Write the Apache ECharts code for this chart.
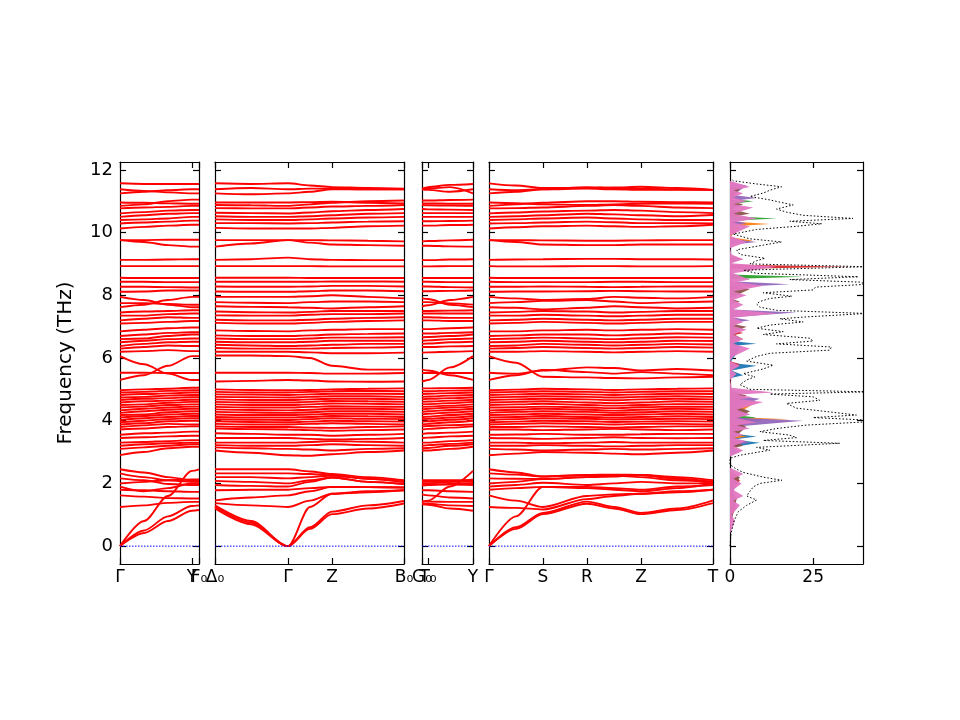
<!DOCTYPE html>
<html>
<head>
<meta charset="utf-8">
<script src="https://cdn.jsdelivr.net/npm/echarts@6/dist/echarts.min.js"></script>
<style>
  html, body { margin: 0; padding: 0; background: #fff; }
  #main { width: 960px; height: 720px; }
</style>
</head>
<body>
<div id="main"></div>
<script>
// k-path sample positions per panel (k distance, arbitrary units)
const xsP1 = [0, 24, 48, 72, 79];
const xsP2 = [0, 36, 73, 95, 117, 153, 189];
const xsP3 = [0, 6, 28, 51];
const xsP4 = [0, 27, 54, 98, 125, 152, 188, 224];

// high-symmetry ticks and labels
const ticksP1 = [0, 72, 79];
const labelsP1 = ["Γ", "Y", "F₀"];
const ticksP2 = [0, 73, 117, 189];
const labelsP2 = ["Δ₀", "Γ", "Z", "B₀"];
const ticksP3 = [0, 6, 51];
const labelsP3 = ["G₀", "T₀", "Y"];
const ticksP4 = [0, 54, 98, 152, 224];
const labelsP4 = ["Γ", "S", "R", "Z", "T"];
const freqTicks = [0, 2, 4, 6, 8, 10, 12];
const dosTicks = [0, 25];
const dosLabels = ["0", "25"];

// band frequencies (THz), one row per band, one value per sample position
const bandsP1 = [
  [0, 0.42, 0.8, 1.13, 1.15], [0, 0.5, 0.95, 1.28, 1.3], [0, 0.8, 1.6, 2.4, 2.45],
  [1.25, 1.3, 1.38, 1.41, 1.41], [1.62, 1.58, 1.53, 1.52, 1.52], [1.8, 1.78, 1.75, 1.73, 1.73],
  [1.9, 1.75, 1.85, 2.0, 2.0], [2.0, 2.05, 2.1, 2.13, 2.13], [2.16, 2.1, 1.98, 1.95, 1.95],
  [2.32, 2.2, 2.1, 2.05, 2.05], [2.45, 2.35, 2.2, 2.1, 2.1],
  [2.9, 3.0, 3.12, 3.17, 3.17], [3.1, 3.15, 3.2, 3.25, 3.25], [3.2, 3.25, 3.28, 3.3, 3.3],
  [3.3, 3.32, 3.35, 3.38, 3.38], [3.45, 3.47, 3.5, 3.52, 3.52], [3.55, 3.6, 3.62, 3.65, 3.65],
  [3.72, 3.75, 3.8, 3.82, 3.82], [3.8, 3.85, 3.9, 3.88, 3.88], [3.88, 3.92, 3.98, 4.0, 4.0],
  [3.95, 4.0, 4.05, 4.08, 4.08], [4.02, 4.08, 4.12, 4.15, 4.15], [4.1, 4.15, 4.2, 4.22, 4.22],
  [4.18, 4.2, 4.27, 4.3, 4.3], [4.25, 4.3, 4.35, 4.38, 4.38], [4.33, 4.38, 4.42, 4.45, 4.45],
  [4.42, 4.45, 4.5, 4.52, 4.52], [4.5, 4.52, 4.57, 4.6, 4.6], [4.58, 4.62, 4.64, 4.67, 4.67],
  [4.66, 4.7, 4.72, 4.75, 4.75], [4.74, 4.76, 4.8, 4.82, 4.82], [4.82, 4.85, 4.87, 4.9, 4.9],
  [4.9, 4.92, 4.95, 4.97, 4.97], [4.97, 5.0, 5.02, 5.05, 5.05],
  [5.3, 5.45, 5.75, 6.06, 6.06], [5.53, 5.53, 5.52, 5.52, 5.52], [6.06, 5.8, 5.5, 5.3, 5.3],
  [6.2, 6.22, 6.25, 6.22, 6.22], [6.3, 6.35, 6.4, 6.38, 6.38], [6.38, 6.45, 6.5, 6.52, 6.52],
  [6.5, 6.55, 6.6, 6.62, 6.62], [6.6, 6.62, 6.7, 6.75, 6.75], [6.7, 6.75, 6.8, 6.82, 6.82],
  [6.85, 6.9, 6.95, 6.97, 6.97],
  [7.1, 7.12, 7.15, 7.18, 7.18], [7.2, 7.25, 7.3, 7.28, 7.28], [7.35, 7.35, 7.4, 7.42, 7.42],
  [7.45, 7.48, 7.5, 7.52, 7.52],
  [7.62, 7.7, 7.85, 7.95, 7.95], [7.75, 7.75, 7.72, 7.7, 7.7], [7.95, 7.85, 7.7, 7.62, 7.62],
  [8.11, 8.12, 8.15, 8.15, 8.15], [8.27, 8.27, 8.26, 8.25, 8.25], [8.43, 8.43, 8.42, 8.42, 8.42],
  [8.56, 8.55, 8.55, 8.55, 8.55], [8.93, 8.93, 8.93, 8.93, 8.93], [9.13, 9.13, 9.14, 9.15, 9.15],
  [9.76, 9.7, 9.6, 9.55, 9.55], [9.76, 9.76, 9.77, 9.77, 9.77],
  [10.13, 10.18, 10.22, 10.25, 10.25], [10.29, 10.32, 10.35, 10.38, 10.38],
  [10.4, 10.42, 10.45, 10.5, 10.5], [10.5, 10.55, 10.6, 10.62, 10.62],
  [10.61, 10.65, 10.7, 10.72, 10.72], [10.77, 10.8, 10.82, 10.85, 10.85],
  [10.96, 10.95, 10.93, 10.92, 10.92], [11.25, 11.3, 11.35, 11.38, 11.38],
  [11.38, 11.33, 11.28, 11.25, 11.25], [11.57, 11.55, 11.55, 11.55, 11.55],
  [10.85, 10.9, 11.0, 11.05, 11.05]
];

const bandsP2 = [
  [1.2, 0.7, 0, 0.55, 1.02, 1.2, 1.36], [1.25, 0.75, 0, 0.6, 1.1, 1.3, 1.44],
  [1.3, 0.8, 0, 1.25, 1.67, 1.72, 1.78], [1.37, 1.3, 1.25, 1.45, 1.67, 1.75, 1.78],
  [1.46, 1.55, 1.62, 1.75, 1.89, 1.88, 1.87], [1.78, 1.8, 1.8, 1.85, 1.89, 1.88, 1.87],
  [1.95, 1.92, 1.9, 2.05, 2.19, 2.05, 1.98], [2.08, 2.05, 2.0, 2.1, 2.19, 2.05, 1.98],
  [2.2, 2.2, 2.16, 2.2, 2.25, 2.15, 2.05], [2.32, 2.32, 2.32, 2.3, 2.25, 2.15, 2.05],
  [2.45, 2.45, 2.45, 2.38, 2.3, 2.2, 2.1],
  [3.05, 2.98, 2.9, 2.88, 2.93, 3.0, 3.05], [3.15, 3.12, 3.1, 3.08, 3.05, 3.1, 3.12],
  [3.22, 3.2, 3.2, 3.22, 3.25, 3.22, 3.2], [3.3, 3.3, 3.3, 3.32, 3.35, 3.33, 3.3],
  [3.45, 3.45, 3.45, 3.42, 3.4, 3.42, 3.45], [3.6, 3.58, 3.55, 3.55, 3.52, 3.55, 3.58],
  [3.75, 3.73, 3.72, 3.7, 3.68, 3.7, 3.72], [3.82, 3.8, 3.8, 3.78, 3.77, 3.8, 3.82],
  [3.9, 3.88, 3.88, 3.9, 3.92, 3.9, 3.88], [3.98, 3.96, 3.95, 3.97, 4.0, 3.98, 3.97],
  [4.05, 4.03, 4.02, 4.05, 4.08, 4.06, 4.05], [4.12, 4.1, 4.1, 4.12, 4.15, 4.14, 4.12],
  [4.2, 4.18, 4.18, 4.2, 4.22, 4.22, 4.2], [4.28, 4.26, 4.25, 4.27, 4.3, 4.3, 4.28],
  [4.36, 4.34, 4.33, 4.35, 4.38, 4.38, 4.36], [4.44, 4.42, 4.42, 4.44, 4.46, 4.45, 4.44],
  [4.52, 4.5, 4.5, 4.52, 4.55, 4.54, 4.52], [4.6, 4.58, 4.58, 4.6, 4.63, 4.62, 4.6],
  [4.68, 4.66, 4.66, 4.68, 4.7, 4.7, 4.68], [4.76, 4.75, 4.74, 4.76, 4.78, 4.78, 4.76],
  [4.84, 4.83, 4.82, 4.84, 4.86, 4.86, 4.85], [4.92, 4.9, 4.9, 4.92, 4.94, 4.95, 4.94],
  [5.0, 4.98, 4.97, 4.98, 5.0, 5.02, 5.03],
  [5.25, 5.27, 5.3, 5.28, 5.25, 5.24, 5.25], [5.53, 5.53, 5.53, 5.52, 5.5, 5.5, 5.52],
  [6.08, 6.08, 6.06, 6.0, 5.75, 5.63, 5.63],
  [6.2, 6.2, 6.2, 6.18, 6.15, 6.15, 6.17], [6.32, 6.3, 6.3, 6.3, 6.32, 6.33, 6.35],
  [6.42, 6.4, 6.38, 6.4, 6.42, 6.45, 6.45], [6.52, 6.5, 6.5, 6.52, 6.55, 6.55, 6.55],
  [6.62, 6.6, 6.6, 6.62, 6.65, 6.65, 6.66], [6.72, 6.7, 6.7, 6.72, 6.75, 6.77, 6.78],
  [6.88, 6.86, 6.85, 6.88, 6.9, 6.92, 6.92],
  [7.12, 7.1, 7.1, 7.12, 7.15, 7.18, 7.2], [7.22, 7.2, 7.2, 7.22, 7.25, 7.28, 7.3],
  [7.36, 7.35, 7.35, 7.38, 7.4, 7.4, 7.42], [7.48, 7.46, 7.45, 7.47, 7.5, 7.5, 7.5],
  [7.65, 7.63, 7.62, 7.6, 7.58, 7.62, 7.65], [7.78, 7.76, 7.75, 7.78, 7.8, 7.8, 7.78],
  [7.95, 7.95, 7.95, 7.97, 8.0, 7.95, 7.9],
  [8.12, 8.11, 8.11, 8.13, 8.15, 8.15, 8.13], [8.28, 8.27, 8.27, 8.28, 8.3, 8.3, 8.28],
  [8.43, 8.43, 8.43, 8.43, 8.44, 8.44, 8.43], [8.56, 8.56, 8.56, 8.55, 8.55, 8.55, 8.55],
  [8.93, 8.93, 8.93, 8.93, 8.92, 8.92, 8.92], [9.13, 9.15, 9.2, 9.15, 9.13, 9.12, 9.12],
  [9.55, 9.65, 9.76, 9.68, 9.62, 9.6, 9.58], [9.76, 9.76, 9.76, 9.76, 9.75, 9.74, 9.72],
  [10.15, 10.13, 10.13, 10.13, 10.15, 10.2, 10.22], [10.3, 10.3, 10.29, 10.3, 10.32, 10.35, 10.36],
  [10.42, 10.4, 10.4, 10.42, 10.45, 10.48, 10.5], [10.52, 10.5, 10.5, 10.52, 10.55, 10.6, 10.62],
  [10.63, 10.62, 10.61, 10.64, 10.68, 10.72, 10.75], [10.78, 10.77, 10.77, 10.8, 10.83, 10.85, 10.88],
  [10.96, 10.96, 10.96, 10.97, 10.98, 10.95, 10.93], [11.25, 11.22, 11.25, 11.3, 11.38, 11.38, 11.38],
  [11.38, 11.42, 11.38, 11.4, 11.4, 11.38, 11.38], [11.57, 11.55, 11.57, 11.5, 11.45, 11.42, 11.4],
  [10.88, 10.87, 10.85, 10.9, 10.95, 11.0, 11.02]
];

const bandsP3 = [
  [1.33, 1.32, 1.2, 1.13], [1.36, 1.35, 1.3, 1.28], [1.42, 1.45, 1.9, 2.4],
  [1.42, 1.42, 1.41, 1.41], [1.65, 1.62, 1.55, 1.52], [1.78, 1.78, 1.75, 1.73],
  [1.93, 1.95, 1.98, 2.0], [1.99, 2.0, 2.05, 2.13], [1.99, 1.98, 1.96, 1.95],
  [2.05, 2.05, 2.05, 2.05], [2.1, 2.1, 2.1, 2.1],
  [3.05, 3.05, 3.1, 3.17], [3.12, 3.13, 3.2, 3.25], [3.2, 3.22, 3.26, 3.3],
  [3.3, 3.3, 3.35, 3.38], [3.45, 3.46, 3.5, 3.52], [3.58, 3.6, 3.62, 3.65],
  [3.72, 3.74, 3.78, 3.82], [3.82, 3.83, 3.86, 3.88], [3.88, 3.9, 3.95, 4.0],
  [3.97, 3.98, 4.03, 4.08], [4.05, 4.06, 4.1, 4.15], [4.12, 4.13, 4.18, 4.22],
  [4.2, 4.22, 4.26, 4.3], [4.28, 4.3, 4.34, 4.38], [4.36, 4.38, 4.42, 4.45],
  [4.44, 4.45, 4.48, 4.52], [4.52, 4.53, 4.56, 4.6], [4.6, 4.61, 4.64, 4.67],
  [4.68, 4.7, 4.72, 4.75], [4.76, 4.77, 4.8, 4.82], [4.85, 4.86, 4.88, 4.9],
  [4.94, 4.94, 4.96, 4.97], [5.03, 5.03, 5.04, 5.05],
  [5.25, 5.3, 5.7, 6.06], [5.52, 5.52, 5.52, 5.52], [5.63, 5.6, 5.45, 5.3],
  [6.17, 6.18, 6.2, 6.22], [6.35, 6.35, 6.37, 6.38], [6.45, 6.46, 6.5, 6.52],
  [6.55, 6.56, 6.6, 6.62], [6.66, 6.67, 6.7, 6.75], [6.78, 6.78, 6.8, 6.82],
  [6.92, 6.92, 6.95, 6.97],
  [7.2, 7.2, 7.18, 7.18], [7.3, 7.3, 7.28, 7.28], [7.42, 7.42, 7.42, 7.42],
  [7.5, 7.5, 7.51, 7.52],
  [7.65, 7.68, 7.85, 7.95], [7.78, 7.78, 7.74, 7.7], [7.9, 7.88, 7.7, 7.62],
  [8.13, 8.13, 8.14, 8.15], [8.28, 8.28, 8.26, 8.25], [8.43, 8.43, 8.42, 8.42],
  [8.55, 8.55, 8.55, 8.55], [8.92, 8.92, 8.93, 8.93], [9.12, 9.12, 9.14, 9.15],
  [9.58, 9.58, 9.56, 9.55], [9.72, 9.73, 9.75, 9.77],
  [10.22, 10.22, 10.24, 10.25], [10.36, 10.36, 10.37, 10.38], [10.5, 10.5, 10.5, 10.5],
  [10.62, 10.62, 10.62, 10.62], [10.75, 10.74, 10.73, 10.72], [10.88, 10.87, 10.86, 10.85],
  [10.93, 10.93, 10.92, 10.92], [11.38, 11.36, 11.3, 11.38], [11.38, 11.4, 11.45, 11.25],
  [11.4, 11.45, 11.52, 11.55], [11.02, 11.02, 11.04, 11.05]
];

const bandsP4 = [
  [0, 0.55, 1.02, 1.35, 1.2, 1.02, 1.15, 1.37], [0, 0.6, 1.06, 1.42, 1.25, 1.06, 1.2, 1.46],
  [0, 0.95, 1.89, 1.89, 1.85, 1.8, 1.9, 1.95], [1.25, 1.22, 1.17, 1.5, 1.6, 1.67, 1.75, 1.8],
  [1.62, 1.45, 1.25, 1.6, 1.65, 1.67, 1.72, 1.8], [1.8, 1.85, 1.89, 1.85, 1.8, 1.75, 1.85, 2.0],
  [1.9, 1.95, 2.02, 1.95, 2.0, 2.05, 2.0, 2.0], [2.0, 2.05, 2.14, 2.2, 2.22, 2.27, 2.15, 2.0],
  [2.16, 2.15, 2.14, 2.2, 2.25, 2.27, 2.15, 2.05], [2.32, 2.28, 2.22, 2.27, 2.25, 2.2, 2.1, 2.05],
  [2.45, 2.35, 2.22, 2.27, 2.28, 2.27, 2.2, 2.1],
  [2.9, 2.95, 3.0, 2.98, 2.95, 2.93, 2.98, 3.05], [3.1, 3.08, 3.05, 3.08, 3.1, 3.08, 3.1, 3.12],
  [3.2, 3.2, 3.22, 3.2, 3.18, 3.2, 3.22, 3.22], [3.3, 3.3, 3.28, 3.3, 3.32, 3.3, 3.3, 3.3],
  [3.45, 3.44, 3.42, 3.45, 3.47, 3.45, 3.44, 3.45], [3.55, 3.56, 3.58, 3.55, 3.55, 3.57, 3.58, 3.58],
  [3.72, 3.72, 3.7, 3.72, 3.74, 3.72, 3.7, 3.72], [3.8, 3.8, 3.82, 3.8, 3.78, 3.8, 3.82, 3.82],
  [3.88, 3.9, 3.92, 3.9, 3.88, 3.9, 3.9, 3.88], [3.95, 3.97, 4.0, 3.98, 3.96, 3.97, 3.98, 3.97],
  [4.02, 4.05, 4.08, 4.06, 4.04, 4.05, 4.06, 4.05], [4.1, 4.12, 4.15, 4.12, 4.1, 4.12, 4.14, 4.12],
  [4.18, 4.2, 4.22, 4.2, 4.18, 4.2, 4.22, 4.2], [4.25, 4.28, 4.3, 4.28, 4.25, 4.27, 4.3, 4.28],
  [4.33, 4.35, 4.38, 4.35, 4.32, 4.35, 4.38, 4.36], [4.42, 4.43, 4.45, 4.42, 4.4, 4.43, 4.45, 4.44],
  [4.5, 4.52, 4.54, 4.5, 4.48, 4.5, 4.53, 4.52], [4.58, 4.6, 4.62, 4.58, 4.56, 4.58, 4.62, 4.6],
  [4.66, 4.68, 4.7, 4.68, 4.65, 4.68, 4.7, 4.68], [4.74, 4.76, 4.78, 4.76, 4.74, 4.76, 4.78, 4.76],
  [4.82, 4.84, 4.86, 4.84, 4.82, 4.84, 4.86, 4.85], [4.9, 4.92, 4.94, 4.92, 4.9, 4.92, 4.94, 4.94],
  [4.97, 4.99, 5.02, 5.0, 4.98, 5.0, 5.02, 5.03],
  [5.3, 5.45, 5.62, 5.55, 5.5, 5.55, 5.5, 5.45], [5.53, 5.5, 5.6, 5.7, 5.68, 5.6, 5.65, 5.6],
  [6.06, 5.85, 5.4, 5.38, 5.36, 5.35, 5.38, 5.4],
  [6.2, 6.2, 6.22, 6.2, 6.18, 6.2, 6.22, 6.2], [6.3, 6.32, 6.35, 6.32, 6.3, 6.32, 6.35, 6.33],
  [6.38, 6.4, 6.45, 6.42, 6.4, 6.42, 6.45, 6.43], [6.5, 6.52, 6.55, 6.52, 6.5, 6.52, 6.55, 6.54],
  [6.6, 6.62, 6.65, 6.62, 6.6, 6.63, 6.66, 6.65], [6.7, 6.72, 6.75, 6.75, 6.72, 6.75, 6.78, 6.76],
  [6.85, 6.85, 6.88, 6.9, 6.88, 6.9, 6.92, 6.9],
  [7.1, 7.12, 7.15, 7.12, 7.1, 7.12, 7.15, 7.15], [7.2, 7.22, 7.25, 7.22, 7.2, 7.22, 7.25, 7.25],
  [7.35, 7.35, 7.38, 7.35, 7.33, 7.35, 7.38, 7.38], [7.45, 7.47, 7.5, 7.48, 7.45, 7.47, 7.5, 7.5],
  [7.62, 7.6, 7.55, 7.6, 7.65, 7.62, 7.58, 7.6], [7.75, 7.78, 7.82, 7.85, 7.8, 7.75, 7.78, 7.8],
  [7.95, 7.9, 7.85, 7.88, 7.95, 7.92, 7.9, 7.95],
  [8.11, 8.12, 8.12, 8.13, 8.14, 8.13, 8.12, 8.12], [8.27, 8.27, 8.28, 8.27, 8.26, 8.27, 8.28, 8.28],
  [8.43, 8.42, 8.42, 8.42, 8.43, 8.43, 8.42, 8.42], [8.56, 8.55, 8.55, 8.55, 8.55, 8.55, 8.55, 8.55],
  [8.93, 8.92, 8.92, 8.93, 8.93, 8.92, 8.92, 8.93], [9.13, 9.14, 9.15, 9.16, 9.16, 9.15, 9.15, 9.14],
  [9.76, 9.7, 9.62, 9.6, 9.6, 9.62, 9.62, 9.62], [9.76, 9.76, 9.75, 9.74, 9.74, 9.75, 9.76, 9.76],
  [10.13, 10.17, 10.2, 10.22, 10.2, 10.18, 10.2, 10.25], [10.29, 10.3, 10.32, 10.35, 10.33, 10.3, 10.3, 10.29],
  [10.4, 10.42, 10.45, 10.48, 10.45, 10.42, 10.4, 10.4], [10.5, 10.52, 10.55, 10.6, 10.58, 10.55, 10.52, 10.56],
  [10.61, 10.64, 10.67, 10.7, 10.72, 10.7, 10.65, 10.62], [10.77, 10.78, 10.8, 10.85, 10.88, 10.85, 10.8, 10.78],
  [10.96, 10.94, 10.9, 10.88, 10.9, 10.92, 10.93, 10.92], [11.25, 11.3, 11.38, 11.4, 11.38, 11.36, 11.36, 11.36],
  [11.38, 11.35, 11.38, 11.45, 11.42, 11.4, 11.38, 11.36], [11.57, 11.5, 11.42, 11.42, 11.44, 11.46, 11.42, 11.36],
  [10.85, 10.9, 10.95, 11.0, 11.0, 10.98, 10.97, 10.96]
];

// total DOS: frequency grid and values
const dosFreq = [0, 0.4, 0.8, 1.1, 1.3, 1.47, 1.6, 1.75, 1.89, 2.0, 2.1, 2.2, 2.35, 2.45, 2.6, 2.8,
  2.9, 3.06, 3.15, 3.28, 3.37, 3.46, 3.54, 3.65, 3.75, 3.86, 3.97, 4.02, 4.1, 4.18, 4.28, 4.4,
  4.55, 4.65, 4.76, 4.85, 4.92, 5.0, 5.15, 5.3, 5.4, 5.5, 5.65, 5.77, 5.9, 6.05, 6.15, 6.25,
  6.35, 6.45, 6.54, 6.63, 6.75, 6.84, 6.95, 7.05, 7.15, 7.25, 7.31, 7.42, 7.52, 7.62, 7.72,
  7.8, 7.9, 7.97, 8.08, 8.17, 8.26, 8.35, 8.42, 8.5, 8.59, 8.7, 8.8, 8.91, 9.0, 9.1, 9.18,
  9.3, 9.45, 9.6, 9.7, 9.8, 9.95, 10.1, 10.2, 10.28, 10.36, 10.45, 10.55, 10.65, 10.75,
  10.88, 10.97, 11.04, 11.15, 11.26, 11.35, 11.46, 11.55, 11.65, 11.75];
const dosTotal = [0, 0.3, 1.2, 2.5, 5, 8, 5, 6, 7, 9, 15.6, 10, 4, 2, 0, 0,
  3, 12, 8, 33, 10, 20, 18, 9, 14, 23, 42, 41, 25, 38, 30, 20,
  17, 27, 25, 12, 42, 6, 3, 5, 7.5, 4, 10, 13, 5, 8, 12, 30,
  30.5, 14, 25, 24, 10, 16, 8, 12, 22, 15, 23, 41, 14, 9, 8,
  9, 12, 18.6, 10, 25, 25.7, 41, 39, 18, 38.6, 8, 4, 41, 6, 8, 10.5,
  3, 2, 10, 15.5, 6, 1, 8, 20, 27.6, 18, 37, 22, 17, 14,
  19, 15, 12, 6, 10, 12, 15.5, 8, 1, 0];

// projected DOS, [dos, freq] pairs
const blueDos = [[0, 2.9], [3, 3.0], [0.5, 3.15], [9, 3.3], [1, 3.4], [8, 3.5], [0, 3.6], [2, 3.9], [0, 4.05],
  [0, 5.35], [4, 5.45], [0.5, 5.6], [8, 5.75], [0, 5.85], [3, 6.3], [0.5, 6.38], [8, 6.45], [0, 6.55]];
const orangeDos = [[0, 3.4], [5, 3.5], [0, 3.6], [6, 3.95], [1, 4.0], [18, 4.05], [0.5, 4.12], [8, 4.6], [0, 4.7],
  [0, 9.65], [7, 9.75], [0, 9.85], [3, 10.15], [1, 10.2], [12, 10.27], [0, 10.35]];
const greenDos = [[0, 4.0], [8, 4.1], [0, 4.2], [0, 7.05], [3, 7.1], [0, 7.15], [0, 8.52], [22, 8.59],
  [0, 8.66], [0, 10.38], [14, 10.45], [0.5, 10.52], [0, 10.9], [7, 11.0], [0, 11.08]];
const redDos = [[0, 0.8], [2, 1.3], [0.5, 1.5], [1, 1.8], [3, 2.1], [0, 2.3], [0, 3.9], [10, 4.0], [0.5, 4.1],
  [0, 5.7], [3, 5.8], [0, 5.9], [0, 6.7], [4, 6.8], [0, 6.9], [0, 8.84], [36, 8.91], [0, 8.98]];
const purpleDos = [[0, 1.5], [2, 2.0], [0, 2.3], [0, 3.2], [6, 3.3], [1, 3.42], [3, 3.6], [0.5, 3.8], [22, 4.0],
  [1, 4.1], [6, 4.2], [1, 4.4], [9, 4.7], [0.5, 4.8], [3, 4.9], [0, 5.0], [0, 6.25], [4, 6.35], [0, 6.45],
  [0, 7.1], [6, 7.2], [0.5, 7.3], [20, 7.45], [0.5, 7.55], [0, 8.25], [18, 8.35], [0.5, 8.45],
  [0, 9.6], [8, 9.7], [0, 9.8], [0, 10.2], [5, 10.3], [0, 10.4], [0, 11.0], [8, 11.1], [1, 11.2], [5, 11.5], [0, 11.6]];
const brownDos = [[0, 0.6], [2, 1.5], [0.5, 1.8], [3, 2.2], [0, 2.4], [0, 3.1], [4, 3.2], [0.5, 3.4], [5, 3.8],
  [1, 4.0], [6, 4.3], [1, 4.5], [5, 4.8], [0, 4.95], [0, 6.5], [4, 6.6], [0.5, 6.8], [5, 7.0], [0, 7.1],
  [0, 7.7], [3, 7.8], [0, 7.9], [6, 8.2], [0, 8.3], [0, 9.05], [4, 9.15], [0, 9.25], [0, 10.5], [6, 10.6],
  [0.5, 10.75], [4, 10.9], [0, 11.0], [3, 11.4], [0, 11.5]];
const pinkDos = [[0, 0.4], [1.5, 0.8], [0.5, 1.0], [3, 1.3], [1, 1.45], [4, 1.6], [1, 1.8], [3.5, 2.0],
  [1, 2.15], [4, 2.3], [0, 2.5], [0, 2.85], [4, 3.05], [1, 3.2], [5, 3.35], [1, 3.45], [4, 3.55],
  [1, 3.65], [6, 3.75], [2, 3.85], [8, 3.95], [2, 4.08], [6, 4.2], [2, 4.35], [10, 4.6], [3, 4.68],
  [7, 4.75], [2, 4.83], [13, 4.9], [0.5, 5.05], [0, 5.3], [2, 5.5], [0.5, 5.6], [3, 5.75], [0, 5.9],
  [1, 6.05], [6, 6.3], [1, 6.45], [4, 6.6], [1, 6.75], [5, 6.9], [1, 7.02], [4, 7.15], [1, 7.28],
  [14, 7.42], [1, 7.55], [4, 7.7], [1, 7.85], [5, 8.0], [1, 8.12], [10, 8.3], [2, 8.42], [6, 8.5],
  [1, 8.7], [14, 8.91], [0.5, 9.02], [4, 9.15], [0.5, 9.3], [0, 9.5], [5, 9.7], [0, 9.9], [6, 10.2],
  [1, 10.32], [8, 10.45], [1, 10.6], [7, 10.8], [1, 10.9], [5, 11.0], [1, 11.12], [4, 11.25],
  [1, 11.35], [6, 11.45], [0, 11.65]];

const FONT = "DejaVu Sans";
const YMIN = -0.57;
const YMAX = 12.25;
const TOP = 162;
const HEIGHT = 402;

const chart = echarts.init(document.getElementById("main"));

const panels = [
  { left: 120, width: 79, xs: xsP1, bands: bandsP1, ticks: ticksP1, labels: labelsP1 },
  { left: 215, width: 189, xs: xsP2, bands: bandsP2, ticks: ticksP2, labels: labelsP2 },
  { left: 422, width: 51, xs: xsP3, bands: bandsP3, ticks: ticksP3, labels: labelsP3 },
  { left: 489, width: 224, xs: xsP4, bands: bandsP4, ticks: ticksP4, labels: labelsP4 },
];

const frame = { show: true, onZero: false, lineStyle: { color: "#000", width: 1.2 } };
const tickStyle = { color: "#000", width: 1.2 };

function labelStyle(values, ticks, labels) {
  return {
    show: true, customValues: values, hideOverlap: false,
    formatter: (v) => labels[ticks.indexOf(v)],
    color: "#000", fontSize: 17, fontFamily: FONT, margin: 5,
  };
}

function xAxisPair(gi, max, ticks, labels, labelValues) {
  const base = {
    type: "value", gridIndex: gi, min: 0, max: max,
    axisLine: frame,
    splitLine: { show: false },
    axisTick: { show: true, inside: true, length: 6, customValues: ticks, lineStyle: tickStyle },
  };
  return [
    Object.assign({}, base, { position: "bottom", axisLabel: labelStyle(labelValues, ticks, labels) }),
    Object.assign({}, base, { position: "top", axisLabel: { show: false } }),
  ];
}

function yAxisPair(gi, showLabels) {
  const base = {
    type: "value", gridIndex: gi, min: YMIN, max: YMAX,
    axisLine: frame,
    splitLine: { show: false },
    axisTick: { show: true, inside: true, length: 6, customValues: freqTicks, lineStyle: tickStyle },
  };
  return [
    Object.assign({}, base, {
      position: "left",
      axisLabel: { show: showLabels, customValues: freqTicks, color: "#000", fontSize: 18, fontFamily: FONT, margin: 7 },
    }),
    Object.assign({}, base, { position: "right", axisLabel: { show: false } }),
  ];
}

const grids = [];
const xAxes = [];
const yAxes = [];
const series = [];

// main panels: grids 0-3
panels.forEach((p, gi) => {
  const kmax = p.xs[p.xs.length - 1];
  const evenTicks = p.ticks.filter((t, i) => i % 2 === 0);
  grids.push({ left: p.left, width: p.width, top: TOP, height: HEIGHT });
  xAxes.push(...xAxisPair(gi, kmax, p.ticks, p.labels, evenTicks));
  yAxes.push(...yAxisPair(gi, gi === 0));
  p.bands.forEach((band) => {
    series.push({
      type: "line",
      xAxisIndex: 2 * gi,
      yAxisIndex: 2 * gi,
      data: p.xs.map((x, i) => [x, band[i]]),
      showSymbol: false,
      smooth: 0.3,
      smoothMonotone: "x",
      lineStyle: { color: "#ff0000", width: 1.9 },
      silent: true,
      z: 2,
    });
  });
  // dotted zero-frequency reference line
  series.push({
    type: "line",
    xAxisIndex: 2 * gi,
    yAxisIndex: 2 * gi,
    data: [[0, 0], [kmax, 0]],
    showSymbol: false,
    lineStyle: { color: "#0000ff", type: [1.5, 1.5], width: 1 },
    silent: true,
    z: 3,
  });
});

// DOS panel: grid 4
grids.push({ left: 730, width: 133, top: TOP, height: HEIGHT });
xAxes.push(...xAxisPair(4, 40, dosTicks, dosLabels, dosTicks));
yAxes.push(...yAxisPair(4, false));

// label-only overlay grids 5-8, carrying the odd-index path labels so close labels are not dropped
panels.forEach((p, gi) => {
  const kmax = p.xs[p.xs.length - 1];
  const oddTicks = p.ticks.filter((t, i) => i % 2 === 1);
  grids.push({ left: p.left, width: p.width, top: TOP, height: HEIGHT });
  xAxes.push({
    type: "value", gridIndex: 5 + gi, min: 0, max: kmax, position: "bottom",
    axisLine: { show: false }, axisTick: { show: false }, splitLine: { show: false },
    axisLabel: labelStyle(oddTicks, p.ticks, p.labels),
  });
  yAxes.push({ type: "value", gridIndex: 5 + gi, min: YMIN, max: YMAX, show: false });
});

function pdosSeries(pairs, color) {
  return {
    type: "custom",
    xAxisIndex: 8,
    yAxisIndex: 8,
    data: pairs,
    encode: { x: 0, y: 1 },
    silent: true,
    z: 2,
    renderItem: (params, api) => {
      if (params.dataIndex !== 0) return null;
      const pts = pairs.map((p) => api.coord(p));
      pts.unshift(api.coord([0, pairs[0][1]]));
      pts.push(api.coord([0, pairs[pairs.length - 1][1]]));
      return { type: "polygon", shape: { points: pts }, style: { fill: color, opacity: 0.95 } };
    },
  };
}

series.push(pdosSeries(blueDos, "#1f77b4"));
series.push(pdosSeries(orangeDos, "#ff7f0e"));
series.push(pdosSeries(greenDos, "#2ca02c"));
series.push(pdosSeries(redDos, "#d62728"));
series.push(pdosSeries(purpleDos, "#9467bd"));
series.push(pdosSeries(brownDos, "#8c564b"));
series.push(pdosSeries(pinkDos, "#e377c2"));

series.push({
  type: "line",
  xAxisIndex: 8,
  yAxisIndex: 8,
  data: dosFreq.map((f, i) => [dosTotal[i], f]),
  showSymbol: false,
  lineStyle: { color: "#000", type: [1.5, 2], width: 1 },
  silent: true,
  z: 3,
});

chart.setOption({
  animation: false,
  backgroundColor: "#fff",
  grid: grids,
  xAxis: xAxes,
  yAxis: yAxes,
  series: series,
  graphic: [{
    type: "text",
    x: 66,
    y: 363,
    rotation: Math.PI / 2,
    style: {
      text: "Frequency (THz)",
      font: "20px DejaVu Sans",
      fill: "#000",
      align: "center",
      verticalAlign: "middle",
      textAlign: "center",
      textVerticalAlign: "middle",
    },
  }],
});
</script>
</body>
</html>
